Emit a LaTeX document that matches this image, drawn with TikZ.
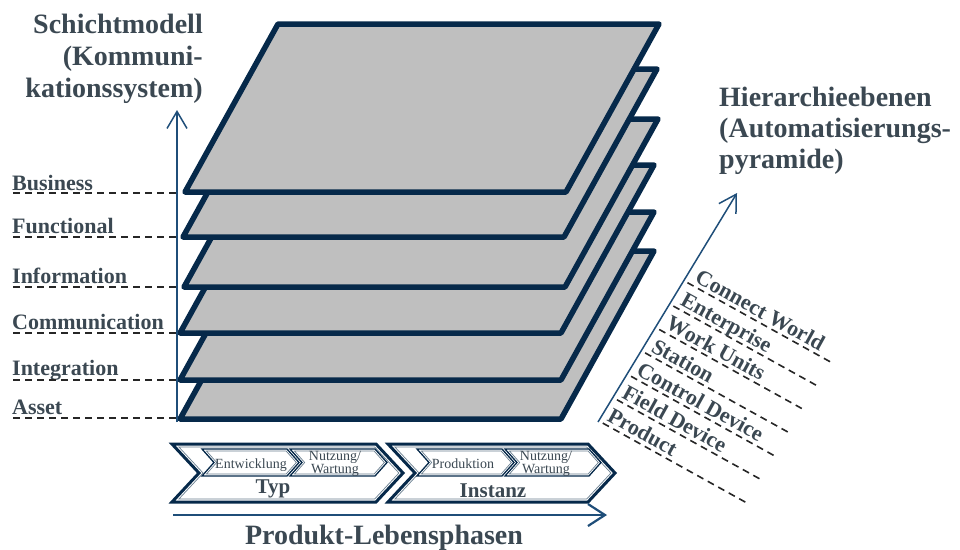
\documentclass[tikz,border=0pt]{standalone}
\usepackage{fontspec}
\setmainfont{Liberation Serif}
\usetikzlibrary{arrows.meta}
\definecolor{navy}{HTML}{06294A}
\definecolor{axisblue}{HTML}{1F4E79}
\definecolor{slate}{HTML}{3B4852}
\definecolor{layergray}{HTML}{BFBFBF}
\definecolor{dashgray}{HTML}{262626}
\definecolor{steel}{HTML}{6A7F90}

\begin{document}
\begin{tikzpicture}[x=1pt,y=-1pt,
  layer/.style={draw=navy, fill=layergray, line width=5.5pt, line join=round},
  axisline/.style={draw=axisblue, line width=1.5pt, -{Straight Barb[length=17pt,width=20pt]}},
  guide/.style={draw=dashgray, line width=1.6pt, dash pattern=on 7pt off 5pt},
  heading/.style={font=\fontsize{28}{32}\selectfont\bfseries, text=slate, inner sep=0pt},
  level/.style={font=\fontsize{22}{24}\selectfont\bfseries, text=slate, inner sep=0pt},
  phase/.style={font=\fontsize{21}{24}\selectfont\bfseries, text=slate, inner sep=0pt},
  subphase/.style={font=\fontsize{14}{12}\selectfont, text=slate, inner sep=0pt, align=center},
]
\useasboundingbox (0,0) rectangle (960,549);

% stacked layer planes, drawn from the bottom up
\foreach \xl/\yb in {180/419, 180/380, 180/333, 184/287, 183/237, 185/192}
  \draw[layer] (\xl,\yb) -- ({\xl+381},\yb) -- ({\xl+474},{\yb-168}) -- ({\xl+93},{\yb-168}) -- cycle;

% vertical axis: layers
\coordinate (vbase) at (177,422);
\coordinate (vtip) at (177,110);
\draw[axisline] (vbase) -- (vtip);

% diagonal axis: hierarchy levels
\coordinate (dbase) at (598,422);
\coordinate (dtip) at (737,193);
\draw[axisline] (dbase) -- (dtip);

% layer labels with dashed guides
\foreach \yb/\yd/\txt/\nm in {190/193/Business/bus, 233/237/Functional/func, 283/287/Information/info, 329/333/Communication/comm, 375/380/Integration/integ, 414/418/Asset/asset}{
  \node[level, anchor=base west] (lbl-\nm) at (12,\yb) {\txt};
  \draw[guide] (13,\yd) -- (vbase |- 0,\yd);
}

% hierarchy labels along the diagonal axis
\foreach \i/\txt in {0/Connect World, 1/Enterprise, 2/Work Units, 3/Station, 4/Control Device, 5/Field Device, 6/Product}{
  \pgfmathsetmacro\c{-86+27.3*\i}
  \pgfmathsetmacro\ts{738-1.0*\i}
  \pgfmathsetmacro\te{904-1.5*\i}
  \pgfmathsetmacro\tt{743-1.6*\i}
  \draw[guide] ({\ts*0.875-\c*0.485},{\ts*0.485+\c*0.875}) -- ({\te*0.875-\c*0.485},{\te*0.485+\c*0.875});
  \node[level, anchor=base west, rotate=-29] (lvl-\i) at ({\tt*0.875-(\c-4)*0.485},{\tt*0.485+(\c-4)*0.875}) {\txt};
}

% axis titles
\node[heading, anchor=base east] (lt1) at (203,33) {Schichtmodell};
\node[heading, anchor=base east] (lt2) at (203,65) {(Kommuni-};
\node[heading, anchor=base east] (lt3) at (203,97) {kationssystem)};
\node[heading, anchor=base west] (rt1) at (719,106) {Hierarchieebenen};
\node[heading, anchor=base west] (rt2) at (719,137) {(Automatisierungs-};
\node[heading, anchor=base west] (rt3) at (719,168) {pyramide)};

% life-cycle chevrons (outer line plus inset inner line)
\foreach \L/\R/\T/\B/\D/\lw/\d in {172/376/444/502/27/3pt/3, 388/588/444/502/27/3pt/3,
    202/287/449/476/12/1.3pt/2, 290/375/449/476/12/1.3pt/2,
    417/502/449/476/12/1.3pt/2, 505/589/449/476/12/1.3pt/2}{
  \pgfmathsetmacro\M{(\T+\B)/2}
  \pgfmathsetmacro\hh{(\B-\T)/2}
  \pgfmathsetmacro\sh{\d*sqrt(1+(\D/\hh)^2)}
  \pgfmathsetmacro\sl{\d*\D/\hh}
  \draw[draw=navy, line width=\lw, line join=miter, fill=white]
    (\L,\T) -- (\R,\T) -- ({\R+\D},\M) -- (\R,\B) -- (\L,\B) -- ({\L+\D},\M) -- cycle;
  \draw[draw=steel, line width=0.7pt]
    ({\L+\sh+\sl},{\T+\d}) -- ({\R-\sh+\sl},{\T+\d}) -- ({\R+\D-\sh},\M)
    -- ({\R-\sh+\sl},{\B-\d}) -- ({\L+\sh+\sl},{\B-\d}) -- ({\L+\D+\sh},\M) -- cycle;
}

\node[subphase, anchor=base] (entw) at (251,468) {Entwicklung};
\node[subphase] (nutz1) at (335,463.5) {Nutzung/\\Wartung};
\node[subphase, anchor=base] (prod) at (463,468) {Produktion};
\node[subphase] (nutz2) at (546,463.5) {Nutzung/\\Wartung};
\node[phase, anchor=base] (typ) at (273,493) {Typ};
\node[phase, anchor=base] (inst) at (493,497) {Instanz};

% life-cycle arrow and caption
\coordinate (pstart) at (173,515);
\coordinate (pend) at (607,515);
\draw[draw=axisblue, line width=2.2pt, -{Straight Barb[length=17pt,width=22pt]}] (pstart) -- (pend);
\node[heading, anchor=base] (phases) at (384,544) {Produkt-Lebensphasen};
\end{tikzpicture}
\end{document}
